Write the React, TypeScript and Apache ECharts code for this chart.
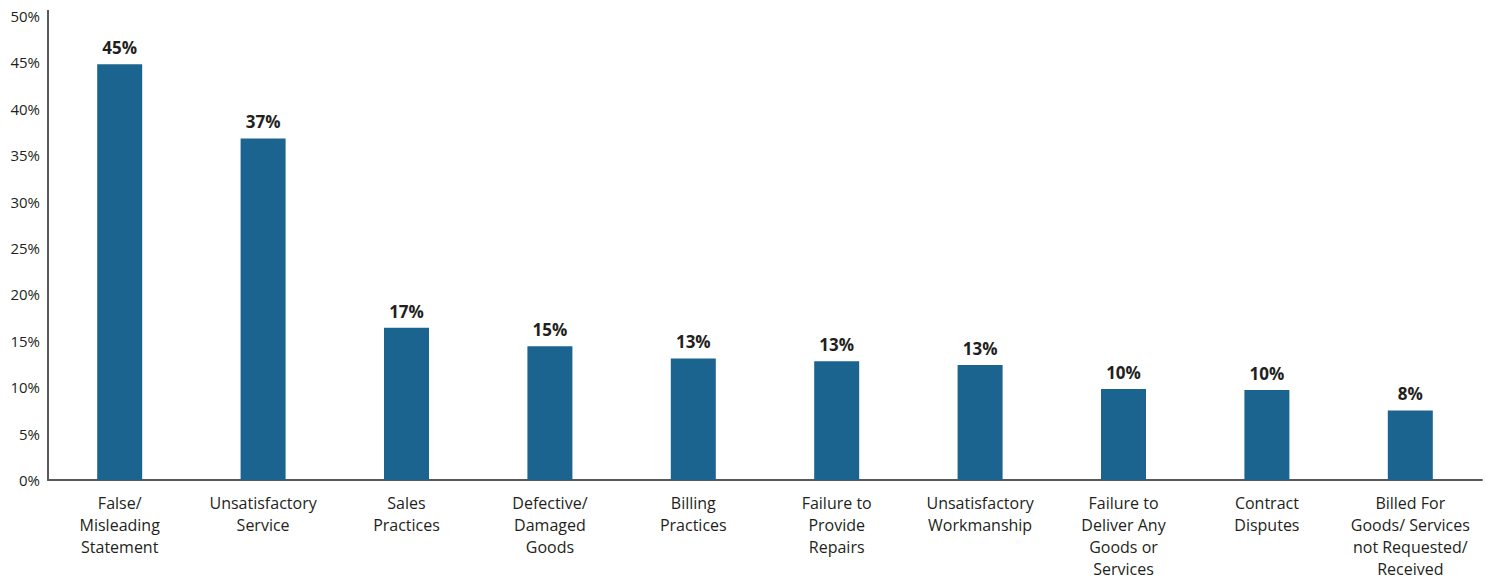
import React, { useEffect, useRef } from "react";
import * as echarts from "echarts";

const categories = [
  "False/\nMisleading\nStatement",
  "Unsatisfactory\nService",
  "Sales\nPractices",
  "Defective/\nDamaged\nGoods",
  "Billing\nPractices",
  "Failure to\nProvide\nRepairs",
  "Unsatisfactory\nWorkmanship",
  "Failure to\nDeliver Any\nGoods or\nServices",
  "Contract\nDisputes",
  "Billed For\nGoods/ Services\nnot Requested/\nReceived",
];
const values = [44.8, 36.8, 16.4, 14.4, 13.1, 12.8, 12.4, 9.8, 9.7, 7.5];
const valueLabels = ["45%", "37%", "17%", "15%", "13%", "13%", "13%", "10%", "10%", "8%"];
const yTicks = { min: 0, max: 50, interval: 5 };

const FONT = "'Open Sans', 'Noto Sans', sans-serif";
const TEXT = "#231f20";

export default function App() {
  const ref = useRef<HTMLDivElement>(null);
  useEffect(() => {
    if (!ref.current) return;
    const chart = echarts.init(ref.current, null, { renderer: "svg" });
    chart.setOption({
      animation: false,
      backgroundColor: "#ffffff",
      grid: { left: 48, right: 11, top: 16, bottom: 101, containLabel: false },
      xAxis: {
        type: "category",
        data: categories,
        axisLine: { show: true, lineStyle: { color: "#58595b", width: 2 } },
        axisTick: { show: false },
        axisLabel: {
          interval: 0,
          margin: 12,
          color: TEXT,
          fontFamily: FONT,
          fontSize: 16,
          lineHeight: 22,
        },
      },
      yAxis: {
        type: "value",
        min: yTicks.min,
        max: yTicks.max,
        interval: yTicks.interval,
        axisLine: { show: true, lineStyle: { color: "#58595b", width: 2 } },
        axisTick: { show: false },
        splitLine: { show: false },
        axisLabel: {
          margin: 8,
          color: TEXT,
          fontFamily: FONT,
          fontSize: 15,
          formatter: (v: number) => `${v}%`,
        },
      },
      graphic: [
        {
          type: "line",
          shape: { x1: 48, y1: 10, x2: 48, y2: 17 },
          style: { stroke: "#58595b", lineWidth: 2 },
        },
      ],
      series: [
        {
          type: "bar",
          data: values,
          barWidth: 45,
          itemStyle: { color: "#1b6490" },
          label: {
            show: true,
            position: "top",
            distance: 8,
            color: TEXT,
            fontFamily: FONT,
            fontSize: 17,
            fontWeight: "bold",
            formatter: (p: any) => valueLabels[p.dataIndex],
          },
        },
      ],
    });
    return () => chart.dispose();
  }, []);
  return (
    <div
      ref={ref}
      style={{ position: "fixed", left: 0, top: 0, width: 1493, height: 581 }}
    />
  );
}
